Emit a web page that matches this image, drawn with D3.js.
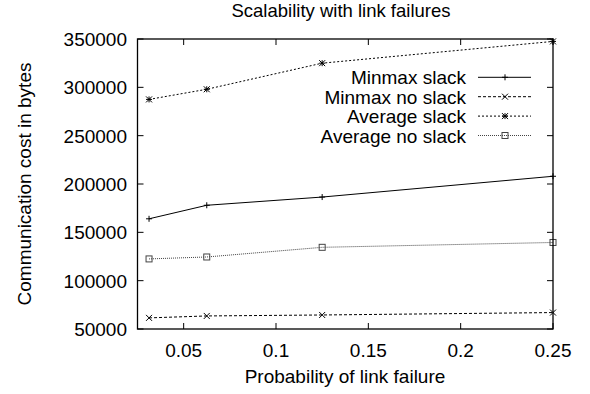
<!DOCTYPE html>
<html>
<head>
<meta charset="utf-8">
<script src="https://cdn.jsdelivr.net/npm/d3@7.9.0/dist/d3.min.js"></script>
<style>
  body { margin: 0; background: #fff; }
  svg { display: block; font-family: "Liberation Sans", Arial, sans-serif; }
</style>
</head>
<body>
<svg id="chart" width="590" height="394"></svg>
<script>
const probs = [0.03125, 0.0625, 0.125, 0.25];
const minmaxSlack = [164000, 178000, 186500, 208000];
const minmaxNoSlack = [61500, 63500, 64500, 67000];
const averageSlack = [287500, 298000, 325000, 347500];
const averageNoSlack = [122500, 124500, 134500, 139500];
const xTicks = [0.05, 0.1, 0.15, 0.2, 0.25];
const yTicks = [50000, 100000, 150000, 200000, 250000, 300000, 350000];

const series = [
  { name: "Minmax slack", values: minmaxSlack, dash: null, color: "#000", marker: "plus" },
  { name: "Minmax no slack", values: minmaxNoSlack, dash: "3,2", color: "#000", marker: "cross" },
  { name: "Average slack", values: averageSlack, dash: "2,2", color: "#000", marker: "star" },
  { name: "Average no slack", values: averageNoSlack, dash: "1,1", color: "#444", marker: "square" },
];

const width = 590, height = 394;
const margin = { top: 39, right: 37, bottom: 65, left: 137.5 };

const x = d3.scaleLinear().domain([0.025, 0.25]).range([margin.left, width - margin.right]);
const y = d3.scaleLinear().domain([50000, 350000]).range([height - margin.bottom, margin.top]);

const svg = d3.select("#chart");

// ticks, mirrored inward on all sides
const tickLen = 6;
const axes = svg.append("g").attr("stroke", "#000").attr("stroke-width", 1);
xTicks.forEach((t) => {
  axes.append("line").attr("x1", x(t)).attr("x2", x(t))
    .attr("y1", y.range()[0]).attr("y2", y.range()[0] - tickLen);
  axes.append("line").attr("x1", x(t)).attr("x2", x(t))
    .attr("y1", y.range()[1]).attr("y2", y.range()[1] + tickLen);
});
yTicks.forEach((t) => {
  axes.append("line").attr("x1", x.range()[0]).attr("x2", x.range()[0] + tickLen)
    .attr("y1", y(t)).attr("y2", y(t));
  axes.append("line").attr("x1", x.range()[1]).attr("x2", x.range()[1] - tickLen)
    .attr("y1", y(t)).attr("y2", y(t));
});

svg.append("g").selectAll("text").data(xTicks).join("text")
  .attr("x", (d) => x(d)).attr("y", 357)
  .attr("text-anchor", "middle").attr("font-size", 19)
  .text((d) => String(d));

svg.append("g").selectAll("text").data(yTicks).join("text")
  .attr("x", 127).attr("y", (d) => y(d) + 7)
  .attr("text-anchor", "end").attr("font-size", 19)
  .text((d) => String(d));

// markers
function drawMarker(g, type, cx, cy, color) {
  const s = 3;
  const m = g.append("g").attr("stroke", color).attr("stroke-width", 1).attr("fill", "none");
  if (type === "plus" || type === "star") {
    m.append("line").attr("x1", cx - s).attr("x2", cx + s).attr("y1", cy).attr("y2", cy);
    m.append("line").attr("x1", cx).attr("x2", cx).attr("y1", cy - s).attr("y2", cy + s);
  }
  if (type === "cross" || type === "star") {
    m.append("line").attr("x1", cx - s).attr("x2", cx + s).attr("y1", cy - s).attr("y2", cy + s);
    m.append("line").attr("x1", cx - s).attr("x2", cx + s).attr("y1", cy + s).attr("y2", cy - s);
  }
  if (type === "square") {
    m.append("rect").attr("x", cx - s).attr("y", cy - s).attr("width", 2 * s).attr("height", 2 * s);
  }
}

const line = d3.line().x((d) => x(d[0])).y((d) => y(d[1]));

series.forEach((s) => {
  const pts = probs.map((p, i) => [p, s.values[i]]);
  svg.append("path").datum(pts)
    .attr("d", line).attr("fill", "none")
    .attr("stroke", s.color).attr("stroke-width", 1)
    .attr("stroke-dasharray", s.dash);
  pts.forEach((d) => drawMarker(svg, s.marker, x(d[0]), y(d[1]), s.color));
});

// legend
const legendY0 = 77.3, legendStep = 19.4;
series.forEach((s, i) => {
  const ly = legendY0 + i * legendStep;
  svg.append("text").attr("x", 466).attr("y", ly + 7)
    .attr("text-anchor", "end").attr("font-size", 19).text(s.name);
  svg.append("line").attr("x1", 478).attr("x2", 531).attr("y1", ly).attr("y2", ly)
    .attr("stroke", s.color).attr("stroke-width", 1).attr("stroke-dasharray", s.dash);
  drawMarker(svg, s.marker, 505, ly, s.color);
});

// frame
svg.append("rect")
  .attr("x", x.range()[0]).attr("y", y.range()[1])
  .attr("width", x.range()[1] - x.range()[0]).attr("height", y.range()[0] - y.range()[1])
  .attr("fill", "none").attr("stroke", "#000").attr("stroke-width", 1.3);

// titles
svg.append("text").attr("x", 341).attr("y", 17)
  .attr("text-anchor", "middle").attr("font-size", 18.5).text("Scalability with link failures");
svg.append("text").attr("x", 345).attr("y", 383)
  .attr("text-anchor", "middle").attr("font-size", 19).text("Probability of link failure");
svg.append("text").attr("transform", "translate(31,184) rotate(-90)")
  .attr("text-anchor", "middle").attr("font-size", 19).text("Communication cost in bytes");
</script>
</body>
</html>
